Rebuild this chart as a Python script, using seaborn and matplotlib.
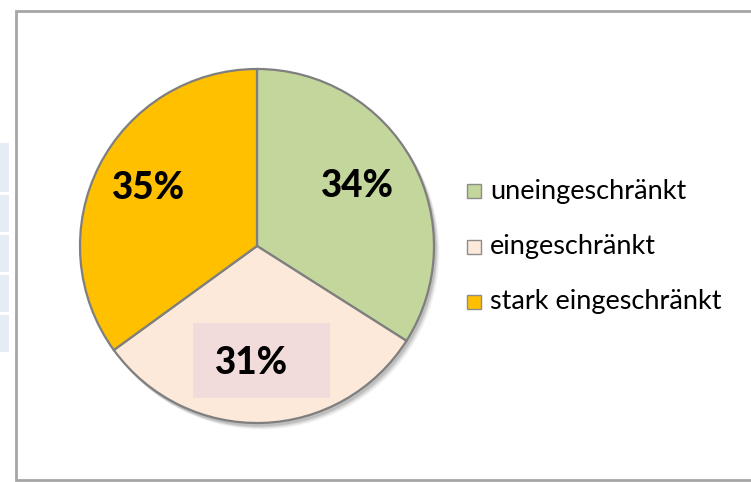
import numpy as np
import seaborn as sns
import matplotlib.pyplot as plt
import matplotlib.patches as mpatches

labels = ['uneingeschränkt', 'eingeschränkt', 'stark eingeschränkt']
shares = [34, 31, 35]
colors = ['#C3D69B', '#FDE9D9', '#FFC000']

W, H = 751, 482

sns.set_theme(style='white')
plt.rcParams['font.family'] = ['Lato', 'DejaVu Sans']

fig = plt.figure(figsize=(W / 100, H / 100), dpi=100)
ax = fig.add_axes([0, 0, 1, 1])

# leftover table cells from the spreadsheet behind the chart
for top, bottom in [(143, 192), (195, 232), (235, 272), (275, 312), (315, 352)]:
    ax.add_patch(mpatches.Rectangle((0, H - bottom), 8.5, bottom - top,
                                    facecolor='#E6ECF5', edgecolor='none'))

# chart frame
ax.add_patch(mpatches.Rectangle((15.5, H - 479.5), 800, 469, facecolor='white',
                                edgecolor='#A6A6A6', linewidth=2))

cx, cy, r = 257, H - 246, 177

# soft shadow
for k, a in enumerate([0.10, 0.08, 0.06, 0.04]):
    ax.add_patch(mpatches.Circle((cx + 2 + k, cy - 3 - k), r + 0.5, facecolor='black',
                                 edgecolor='none', alpha=a, zorder=1))

wedges, _ = ax.pie(shares, colors=colors, startangle=90, counterclock=False,
                   center=(cx, cy), radius=r, frame=True,
                   wedgeprops=dict(edgecolor='#7F7F7F', linewidth=1.6))
ax.set_xlim(0, W)
ax.set_ylim(0, H)
ax.set_aspect('equal')
ax.axis('off')
for w in wedges:
    w.set_zorder(2)

# percentage labels
ax.add_patch(mpatches.Rectangle((193, H - 398), 137, 75, facecolor='#F2DCDB',
                                edgecolor='none', zorder=3))
label_pos = [(357, H - 186), (252, H - 363), (149, H - 188)]
for (x, y), v in zip(label_pos, shares):
    ax.text(x, y, f'{v}%', ha='center', va='center', fontsize=26.5,
            fontweight='black', color='black', zorder=4)

# legend
for i, (lab, col) in enumerate(zip(labels, colors)):
    y = H - (191 + i * 55.5)
    ax.add_patch(mpatches.Rectangle((467, y - 7), 14, 14, facecolor=col,
                                    edgecolor='#8C8C8C', linewidth=1, zorder=3))
    ax.text(490, y, lab, ha='left', va='center', fontsize=19.5, color='black', zorder=4)

fig.savefig('out.png', dpi=100)
